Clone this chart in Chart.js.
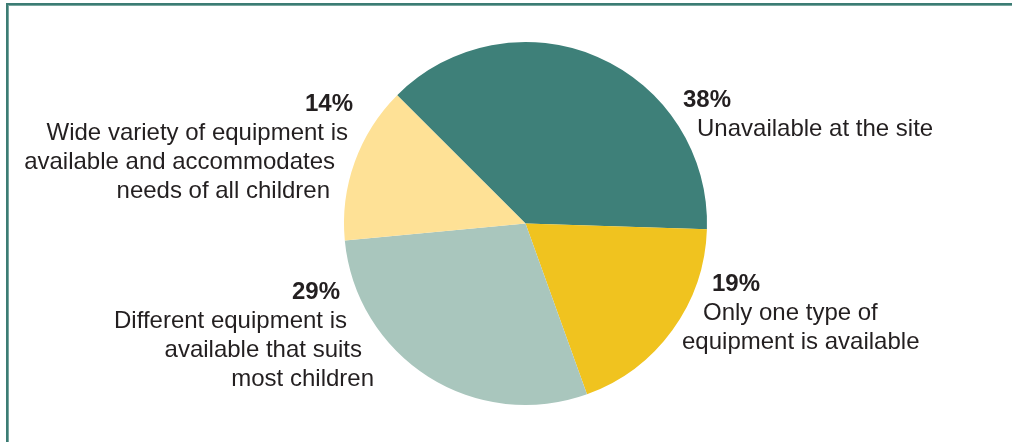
<!DOCTYPE html>
<html>
<head>
<meta charset="utf-8">
<script src="https://cdn.jsdelivr.net/npm/chart.js"></script>
<style>
  body { margin: 0; background: #ffffff; }
  #wrap { position: relative; width: 1012px; height: 442px; }
</style>
</head>
<body>
<div id="wrap"><canvas id="pieChart"></canvas></div>
<script>
// Equipment availability at the site (percent of sites)
const categories = [
    "Unavailable at the site",
    "Only one type of equipment is available",
    "Different equipment is available that suits most children",
    "Wide variety of equipment is available and accommodates needs of all children"
];
const shares = [38, 19, 29, 14];
const sliceColors = ["#3e8079", "#f0c31f", "#a9c6bd", "#fee196"];

// Wrapped label lines for each slice, same order as categories
const labelLines = [
    ["Unavailable at the site"],
    ["Only one type of", "equipment is available"],
    ["Different equipment is", "available that suits", "most children"],
    ["Wide variety of equipment is", "available and accommodates", "needs of all children"]
];

// where each text block sits: heading anchor + one anchor per line
const labelSpots = [
    { align: "left",  head: [683, 107], lines: [[697, 136]] },
    { align: "left",  head: [712, 291], lines: [[703, 320], [682, 349]] },
    { align: "right", head: [340, 299], lines: [[347, 328], [362, 357], [374, 386]] },
    { align: "right", head: [353, 111], lines: [[348, 140], [335, 169], [330, 198]] }
];

const frame = {
    id: "frame",
    beforeDraw(chart) {
        const c = chart.ctx;
        c.save();
        c.fillStyle = "#3c7c74";
        c.fillRect(6, 3, 2, 439);
        c.fillRect(6, 3, 1006, 2);
        c.fillStyle = "#79a7a0";
        c.fillRect(8, 5, 1, 437);
        c.fillRect(8, 5, 1004, 1);
        c.restore();
    }
};

const sliceLabels = {
    id: "sliceLabels",
    afterDraw(chart) {
        const c = chart.ctx;
        c.save();
        c.fillStyle = "#231f20";
        c.textBaseline = "alphabetic";
        labelSpots.forEach((spot, i) => {
            c.textAlign = spot.align;
            c.font = "bold 24px 'Liberation Sans', Arial, sans-serif";
            c.fillText(shares[i] + "%", spot.head[0], spot.head[1]);
            c.font = "24px 'Liberation Sans', Arial, sans-serif";
            labelLines[i].forEach((line, j) => {
                c.fillText(line, spot.lines[j][0], spot.lines[j][1]);
            });
        });
        c.restore();
    }
};

const ctx = document.getElementById("pieChart").getContext("2d");
new Chart(ctx, {
    type: "pie",
    data: {
        labels: categories,
        datasets: [{
            data: shares,
            backgroundColor: sliceColors,
            borderWidth: 0
        }]
    },
    options: {
        responsive: true,
        maintainAspectRatio: false,
        animation: false,
        rotation: -45,
        layout: {
            padding: { left: 344, right: 305, top: 42, bottom: 37 }
        },
        plugins: {
            legend: { display: false },
            tooltip: { enabled: false }
        }
    },
    plugins: [frame, sliceLabels]
});
</script>
</body>
</html>
